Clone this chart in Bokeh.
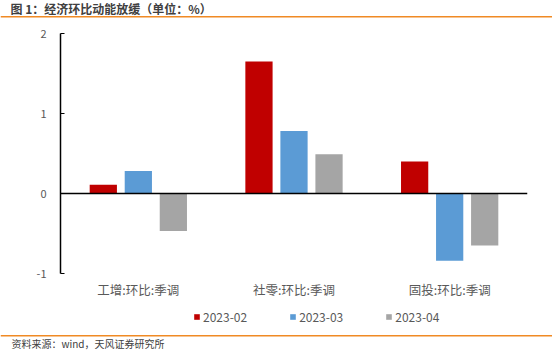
from bokeh.plotting import figure
from bokeh.layouts import column
from bokeh.models import (ColumnDataSource, FactorRange, Range1d, Span, Label,
                          Legend, LegendItem, BoxAnnotation, FixedTicker)
from bokeh.transform import dodge
from bokeh.embed import file_html
from bokeh.resources import INLINE

categories = ["工增:环比:季调", "社零:环比:季调", "固投:环比:季调"]
series_names = ["2023-02", "2023-03", "2023-04"]
v_2023_02 = [0.11, 1.65, 0.40]
v_2023_03 = [0.28, 0.78, -0.84]
v_2023_04 = [-0.47, 0.49, -0.65]
colors = ["#C00000", "#5B9BD5", "#A5A5A5"]
y_ticks = [-1, 0, 1, 2]
y_tick_labels = {-1: "-1", 0: "0", 1: "1", 2: "2"}

FONT = "Noto Sans CJK SC"
ORANGE = "#F08A24"
W = 552


def strip(h, y0):
    f = figure(width=W, height=h, x_range=Range1d(0, W), y_range=Range1d(y0 + h, y0),
               x_axis_type=None, y_axis_type=None, output_backend="svg",
               toolbar_location=None, min_border=0, frame_align=False)
    f.outline_line_color = None
    f.grid.grid_line_color = None
    return f


# header
head = strip(18, 0)
head.add_layout(Label(x=10, y=8, text="图 1：经济环比动能放缓（单位：%）", text_font=FONT,
                      text_font_size="12px", text_font_style="bold", text_color="#404040",
                      text_baseline="middle"))
head.add_layout(BoxAnnotation(left=0, right=W, top=15.5, bottom=17,
                              fill_color=ORANGE, fill_alpha=1, line_color=None))

# main chart
src = ColumnDataSource(dict(cat=categories, s0=v_2023_02, s1=v_2023_03, s2=v_2023_04))

p = figure(width=W, height=283, x_range=FactorRange(*categories),
           y_range=Range1d(-1, 2), output_backend="svg", toolbar_location=None,
           min_border_left=60, min_border_right=25, min_border_top=15,
           min_border_bottom=28, frame_align=False)
p.outline_line_color = None
p.grid.grid_line_color = None

for i, (col, c) in enumerate(zip(["s0", "s1", "s2"], colors)):
    p.vbar(x=dodge("cat", (i - 1) * 0.225, range=p.x_range), top=col, bottom=0,
           width=0.175, source=src, fill_color=c, line_color=None)

p.add_layout(Span(location=0, dimension="width", line_color="black", line_width=1.5))

ya = p.yaxis[0]
ya.ticker = FixedTicker(ticks=y_ticks)
ya.major_label_overrides = y_tick_labels
ya.axis_line_color = "black"
ya.axis_line_width = 1.5
ya.major_tick_in = 4
ya.major_tick_out = 0
ya.minor_tick_line_color = None
ya.major_tick_line_color = "black"
ya.major_label_text_color = "#595959"
ya.major_label_text_font = FONT
ya.major_label_text_font_size = "11px"
ya.major_label_standoff = 14

xa = p.xaxis[0]
xa.axis_line_color = None
xa.major_tick_line_color = None
xa.major_tick_in = 0
xa.major_tick_out = 0
xa.minor_tick_line_color = None
xa.major_label_text_color = "#595959"
xa.major_label_text_font = FONT
xa.major_label_text_font_size = "12.5px"
xa.major_label_standoff = 6

# legend + footer strip (legend swatches reuse the series colours)
foot = strip(51, 301)
swatches = [foot.vbar(x=[0], top=[0], bottom=[0], width=0, fill_color=c, line_color=None)
            for c in colors]
legend = Legend(items=[LegendItem(label=n, renderers=[r]) for n, r in zip(series_names, swatches)],
                orientation="horizontal", location=(193, 27),
                label_text_font=FONT, label_text_font_size="12px",
                label_text_color="#595959", glyph_width=7, glyph_height=7,
                spacing=42, label_standoff=3, padding=0, margin=0,
                border_line_color=None, background_fill_alpha=0)
foot.add_layout(legend)
foot.add_layout(BoxAnnotation(left=0, right=W, top=334.5, bottom=336,
                              fill_color=ORANGE, fill_alpha=1, line_color=None))
foot.add_layout(Label(x=11, y=343, text="资料来源：wind，天风证券研究所", text_font=FONT,
                      text_font_size="10px", text_color="#404040",
                      text_baseline="middle"))

layout = column(head, p, foot, spacing=0)
open("out.html", "w").write(file_html(layout, INLINE))
